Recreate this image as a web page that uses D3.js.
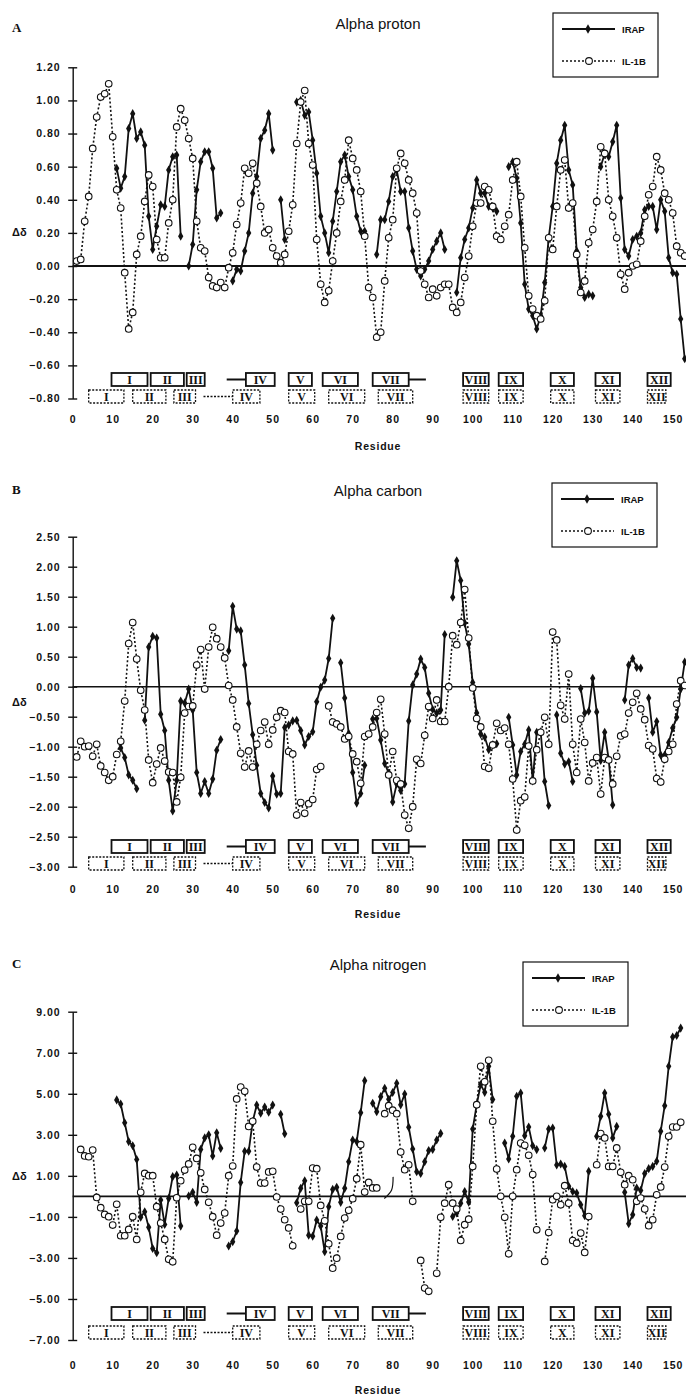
<!DOCTYPE html>
<html>
<head>
<meta charset="utf-8">
<script src="https://cdn.jsdelivr.net/npm/d3@7"></script>
<style>
  body { margin: 0; background: #fff; }
  text { font-family: "Liberation Sans", Arial, sans-serif; fill: #111; }
</style>
</head>
<body>
<div id="chart"></div>
<script>
// residue axis labels
var residueTicks = d3.range(0, 151, 10);

// y ticks, one list per panel
var protonTicks = [1.2, 1.0, 0.8, 0.6, 0.4, 0.2, 0, -0.2, -0.4, -0.6, -0.8];
var carbonTicks = [2.5, 2.0, 1.5, 1.0, 0.5, 0, -0.5, -1.0, -1.5, -2.0, -2.5, -3.0];
var nitrogenTicks = [9, 7, 5, 3, 1, -1, -3, -5, -7];

// Alpha proton, IRAP from residue 11 (null = no point)
var protonIrap = [
  0.59, 0.47, 0.54, 0.83, 0.92, 0.77, 0.81, 0.73, 0.30, 0.10,
  0.24, 0.37, 0.36, 0.58, 0.66, 0.67, 0.18, null, 0.00, 0.13,
  0.46, 0.63, 0.69, 0.69, 0.59, 0.29, 0.32, null, null, -0.09,
  -0.02, -0.03, 0.09, 0.20, 0.44, 0.54, 0.77, 0.82, 0.92, 0.70,
  null, 0.40, 0.16, null, null, 0.99, 1.00, 0.91, 0.93, 0.76,
  0.56, 0.30, 0.20, 0.08, 0.27, 0.45, 0.63, 0.67, 0.54, 0.46,
  0.30, 0.21, 0.21, null, null, 0.07, 0.28, 0.28, 0.39, 0.54,
  0.58, 0.45, 0.45, 0.23, 0.09, -0.02, -0.06, -0.02, 0.03, 0.10,
  0.15, 0.20, 0.10, null, null, -0.16, 0.05, 0.16, 0.23, 0.35,
  0.52, 0.44, 0.44, 0.36, 0.35, 0.33, null, null, 0.60, 0.63,
  0.53, 0.26, -0.11, -0.26, -0.30, -0.38, -0.30, -0.10, 0.17, 0.36,
  0.62, 0.76, 0.85, 0.58, 0.49, 0.09, -0.13, -0.19, -0.17, -0.18,
  null, 0.60, 0.68, 0.66, 0.75, 0.85, 0.41, 0.10, 0.06, 0.16,
  0.18, 0.20, 0.34, 0.36, 0.36, 0.22, 0.40, 0.33, 0.05, -0.04,
  -0.05, -0.32, -0.56
];
// Alpha proton, IL-1B from residue 1
var protonIl1b = [
  0.03, 0.04, 0.27, 0.42, 0.71, 0.90, 1.02, 1.04, 1.10, 0.78,
  0.46, 0.35, -0.04, -0.38, -0.28, 0.07, 0.18, 0.39, 0.55, 0.48,
  0.16, 0.05, 0.05, 0.26, 0.40, 0.84, 0.95, 0.88, 0.77, 0.65,
  0.27, 0.11, 0.09, -0.07, -0.12, -0.13, -0.10, -0.13, -0.01, 0.08,
  0.25, 0.38, 0.59, 0.56, 0.62, 0.50, 0.36, 0.20, 0.22, 0.11,
  0.06, 0.02, 0.07, 0.21, 0.37, 0.74, 0.99, 1.06, 0.74, 0.61,
  0.16, -0.11, -0.22, -0.15, 0.03, 0.20, 0.39, 0.52, 0.76, 0.65,
  0.58, 0.45, 0.18, -0.13, -0.19, -0.43, -0.40, -0.09, 0.17, 0.28,
  0.59, 0.68, 0.62, 0.52, 0.44, 0.32, -0.03, -0.11, -0.19, -0.14,
  -0.18, -0.13, -0.11, -0.11, -0.25, -0.28, -0.22, -0.07, 0.06, 0.24,
  0.38, 0.38, 0.48, 0.46, 0.36, 0.18, 0.16, 0.24, 0.31, 0.52,
  0.63, 0.42, 0.11, -0.18, -0.26, -0.30, -0.32, -0.21, 0.17, 0.10,
  0.36, 0.58, 0.64, 0.35, 0.38, 0.07, -0.16, -0.09, 0.14, 0.22,
  0.39, 0.72, 0.68, 0.40, 0.30, 0.17, -0.05, -0.14, -0.04, 0.00,
  0.01, 0.15, 0.30, 0.43, 0.48, 0.66, 0.58, 0.44, 0.40, 0.32,
  0.12, 0.08, 0.06
];

// Alpha carbon, IRAP from residue 12
var carbonIrap = [
  -1.02, -1.18, -1.47, -1.56, -1.70, null, -0.56, 0.66, 0.84,
  0.81, -0.46, -0.73, -1.56, -2.07, -1.56, -0.24, -0.27, -0.04, -0.39,
  -1.43, -1.78, -1.58, -1.78, -1.54, -1.06, -0.88, null, 0.60, 1.34,
  0.96, 0.93, 0.36, -0.28, -0.80, -1.31, -1.78, -1.93, -2.02, -1.49,
  -1.79, -1.78, -0.68, -0.64, -0.57, -0.56, -0.73, -0.97, -0.83, -0.75,
  -0.25, -0.01, 0.11, 0.47, 1.14, null, 0.40, -0.19, -0.78, -1.43,
  -1.94, -1.78, -1.31, null, -0.54, -0.53, -0.89, -1.28, -1.44, -1.92,
  -1.62, -1.73, -1.62, -0.57, 0.03, 0.21, 0.46, 0.32, -0.11, -0.38,
  -0.44, -0.39, 0.87, null, 1.49, 2.10, 1.77, 1.06, 0.71, 0.07,
  -0.44, -0.79, -0.84, -1.05, -0.97, -0.95, null, null, -0.51, -0.97,
  -1.47, -1.08, -0.96, -0.72, -1.57, -0.76, -0.75, -1.58, -1.98, null,
  -0.47, -1.11, -1.29, -1.25, -1.58, null, -0.03, -0.44, -0.41, 0.14,
  -0.42, -1.23, -0.76, -1.21, -1.97, null, null, -0.22, 0.36, 0.47,
  0.32, 0.31, null, -0.19, -0.76, -0.58, -1.14, -1.14, -0.93, -0.69,
  -0.51, -0.04, 0.41
];
// Alpha carbon, IL-1B from residue 1
var carbonIl1b = [
  -1.17, -0.91, -1.00, -0.99, -1.16, -0.96, -1.32, -1.43, -1.56, -1.50,
  -1.13, -0.91, -0.24, 0.72, 1.07, 0.46, -0.06, -0.39, -1.22, -1.60,
  -1.29, -1.02, -1.24, -1.42, -1.43, -1.92, -1.51, -0.44, -0.33, -0.32,
  0.36, 0.62, -0.04, 0.66, 0.99, 0.80, 0.66, 0.48, 0.02, -0.22,
  -0.67, -1.11, -1.34, -1.07, -1.34, -0.96, -0.73, -0.59, -0.96, -0.72,
  -0.51, -0.40, -0.43, -1.08, -1.12, -2.14, -1.93, -2.11, -1.95, -1.88,
  -1.38, -1.33, null, -0.32, -0.59, -0.62, -0.67, -0.87, -0.83, -1.12,
  -1.25, -1.61, -0.83, -0.79, -0.67, -0.43, -0.21, -0.79, -1.47, -1.08,
  -1.56, -1.62, -2.14, -2.36, -2.00, -1.21, -1.28, -0.81, -0.33, -0.53,
  -0.22, -0.58, -0.58, 0.00, 0.85, 0.70, 1.07, 1.62, 0.81, -0.02,
  -0.53, -0.67, -1.33, -1.36, -0.97, -0.61, -0.73, -0.69, -0.96, -1.54,
  -2.39, -1.90, -1.84, -0.99, -1.57, -1.05, -0.76, -0.51, -0.96, 0.91,
  0.78, -0.31, -0.54, 0.21, -0.96, -1.43, -0.54, -0.93, -1.57, -1.27,
  -1.18, -1.79, -1.18, -1.22, -1.62, -1.16, -0.82, -0.79, -0.44, -0.26,
  -0.11, -0.37, -0.55, -0.98, -1.04, -1.53, -1.59, -1.21, -1.08, -0.96,
  -0.29, 0.10, 0.02
];

// Alpha nitrogen, IRAP from residue 11
var nitrogenIrap = [
  4.70, 4.50, 3.59, 2.67, 2.47, 1.80, -1.02, -0.75, -1.51, -2.54,
  -2.75, -0.18, -1.37, -0.10, 0.96, 1.04, -1.45, null, 0.02, 0.20,
  -0.29, 2.29, 2.85, 3.00, 1.97, 3.10, 2.34, null, -2.42, -2.21,
  -1.69, 0.68, 2.20, 2.20, 3.65, 4.45, 4.05, 4.35, 4.10, 4.45,
  null, 4.00, 3.05, null, null, -0.31, 0.39, 0.76, -1.89, -1.94,
  -1.15, -1.45, -2.70, -0.50, 0.34, 0.44, -0.29, 0.39, 1.69, 2.75,
  2.67, 4.08, 5.64, null, 4.54, 4.13, 4.86, 5.27, 4.73, 5.06,
  5.51, 4.46, 4.99, 3.37, 2.31, 1.20, 1.12, 1.69, 2.23, 2.29,
  2.75, 3.07, null, null, -0.98, -0.81, -0.33, 0.24, -0.28, 3.28,
  4.47, 5.45, 5.07, 6.34, 4.72, null, null, 2.60, 1.82, 2.93,
  4.88, 5.04, 2.96, 3.38, 2.47, 2.28, null, 2.36, 3.28, 3.33,
  1.53, 1.58, 1.46, 0.49, 0.24, 0.16, -0.41, -0.94, 1.22, null,
  2.93, 3.90, 5.04, 4.00, 2.85, 3.41, null, 0.20, -1.33, -0.89,
  0.41, 0.29, 1.11, 1.35, 1.46, 1.71, 3.17, 4.42, 6.34, 7.77,
  7.84, 8.20
];
// Alpha nitrogen, IL-1B from residue 2
var nitrogenIl1b = [
  2.29, 1.97, 1.93, 2.26, -0.05, -0.55, -0.88, -0.99, -1.40, -0.39,
  -1.92, -1.92, -1.61, -0.99, -2.10, 0.20, 1.12, 1.01, 1.01, -0.50,
  -1.30, -2.10, -3.07, -3.19, -0.07, 0.76, 1.28, 1.58, 2.39, 1.85,
  1.15, 0.34, -0.29, -0.99, -1.89, -1.30, -0.81, 1.01, 1.48, 4.75,
  5.33, 5.12, 3.41, 3.66, 1.43, 0.65, 0.65, 1.19, 1.22, -0.03,
  -0.62, -1.14, -1.54, -2.41, null, -0.62, -0.24, -0.24, 1.38, 1.35,
  -0.44, -1.19, -2.31, -3.50, -3.01, -1.95, -1.06, -0.68, -0.11, 0.86,
  2.52, 0.21, 0.68, 0.41, 0.41, null, 4.03, 4.42, 4.20, 4.03,
  2.16, 1.30, 1.54, -0.24, null, -3.12, -4.47, -4.63, null, -3.75,
  -1.02, -0.33, 0.57, -0.33, -0.62, -2.15, -1.38, -1.11, 1.46, 4.47,
  6.34, 5.58, 6.63, 3.66, 1.33, 0.00, -1.02, -2.80, 0.00, 1.30,
  2.60, 2.49, 2.00, 1.06, -1.63, null, -3.17, -1.76, -0.16, 0.00,
  -0.41, 0.52, -0.33, -2.15, -2.28, -1.79, -2.73, -0.98, null, 1.54,
  3.06, 2.85, 1.46, 1.46, 2.36, 1.17, 0.57, 1.01, 0.81, -0.24,
  -0.08, -0.62, -1.43, -1.14, 0.08, 0.46, 1.43, 2.93, 3.38, 3.38,
  3.61
];
// small hand-drawn bracket in panel C (residue, value)
var nitrogenMark = [[77.9, -0.1], [79.7, 0.3], [80.1, 0.95]];

// strand boxes: [from residue, to residue, label]
var irapStrands = [[9.7, 18.7, "I"], [19.5, 27.8, "II"], [28.5, 33, "III"], [43.3, 50.5, "IV"],
  [54, 59.8, "V"], [62.5, 71.3, "VI"], [75, 84, "VII"], [97.6, 104, "VIII"], [106.5, 112.6, "IX"],
  [119.5, 125.3, "X"], [130.7, 136.8, "XI"], [143.7, 149.5, "XII"]];
var irapLinks = [[38.5, 43.3], [84, 88.3]];
var il1bStrands = [[4, 12.8, "I"], [15, 23.3, "II"], [25.3, 30.7, "III"], [40, 46.8, "IV"],
  [54, 60.5, "V"], [64, 73, "VI"], [76.4, 85, "VII"], [97.6, 104, "VIII"], [106.5, 112.6, "IX"],
  [119.5, 125.3, "X"], [130.7, 136.8, "XI"], [143.7, 148.3, "XII"]];
var il1bLinks = [[32.7, 40]];

var svg = d3.select("#chart").append("svg")
  .attr("width", 686).attr("height", 1399)
  .style("background", "#fff");

var x = d3.scaleLinear().domain([0, 150]).range([72.7, 672.7]);
var fmt = d3.format(".2f");

var panels = [
  {letter: "A", title: "Alpha proton", ticks: protonTicks, irap: protonIrap, irapFrom: 11,
   il1b: protonIl1b, il1bFrom: 1, top: 67.3, bottom: 398.5, titleY: 29, letterY: 32,
   legend: [553, 13], rows: [373, 390], labelY: 424, residueY: 450, deltaY: 236, zeroW: 2},
  {letter: "B", title: "Alpha carbon", ticks: carbonTicks, irap: carbonIrap, irapFrom: 12,
   il1b: carbonIl1b, il1bFrom: 1, top: 536.7, bottom: 866.7, titleY: 496, letterY: 494,
   legend: [552, 483], rows: [840, 857], labelY: 894, residueY: 918, deltaY: 706, zeroW: 1.6},
  {letter: "C", title: "Alpha nitrogen", ticks: nitrogenTicks, irap: nitrogenIrap, irapFrom: 11,
   il1b: nitrogenIl1b, il1bFrom: 2, top: 1011.7, bottom: 1340, titleY: 970, letterY: 968,
   legend: [523, 962], rows: [1307, 1326], labelY: 1370, residueY: 1394, deltaY: 1180, zeroW: 1.6,
   mark: nitrogenMark}
];

function toPoints(vals, from) {
  return vals.map(function(v, i) { return {r: from + i, v: v}; });
}

function drawStrands(g, strands, links, y0, dashed) {
  var h = 13;
  links.forEach(function(l) {
    g.append("line")
      .attr("x1", x(l[0])).attr("x2", x(l[1]))
      .attr("y1", y0 + h / 2).attr("y2", y0 + h / 2)
      .attr("stroke", "#111").attr("stroke-width", dashed ? 1.3 : 2)
      .attr("stroke-dasharray", dashed ? "2,1.5" : null);
  });
  var s = g.selectAll(null).data(strands).enter().append("g");
  s.append("rect")
    .attr("x", function(d) { return x(d[0]); })
    .attr("y", y0)
    .attr("width", function(d) { return x(d[1]) - x(d[0]); })
    .attr("height", h)
    .attr("fill", "#fff")
    .attr("stroke", "#111")
    .attr("stroke-width", dashed ? 1.3 : 1.8)
    .attr("stroke-dasharray", dashed ? "2,1.5" : null);
  s.append("text")
    .attr("x", function(d) { return (x(d[0]) + x(d[1])) / 2; })
    .attr("y", y0 + h - 2.5)
    .attr("text-anchor", "middle")
    .attr("fill", "#111")
    .style("font-family", "'Liberation Serif', 'DejaVu Serif', serif")
    .style("font-size", "12px")
    .style("font-weight", "bold")
    .text(function(d) { return d[2]; });
}

function drawLegend(g, lx, ly) {
  g.append("rect").attr("x", lx).attr("y", ly).attr("width", 105).attr("height", 64)
    .attr("fill", "#fff").attr("stroke", "#111").attr("stroke-width", 1.2);
  g.append("line").attr("x1", lx + 9).attr("x2", lx + 62).attr("y1", ly + 16).attr("y2", ly + 16)
    .attr("stroke", "#111").attr("stroke-width", 1.8);
  g.append("path").attr("d", d3.symbol(d3.symbolDiamond, 26))
    .attr("transform", "translate(" + (lx + 35) + "," + (ly + 16) + ")").attr("fill", "#111");
  g.append("text").attr("x", lx + 69).attr("y", ly + 19.5)
    .style("font-size", "9.5px").style("font-weight", "bold").text("IRAP");
  g.append("line").attr("x1", lx + 9).attr("x2", lx + 62).attr("y1", ly + 48).attr("y2", ly + 48)
    .attr("stroke", "#111").attr("stroke-width", 1.5).attr("stroke-dasharray", "2,2");
  g.append("circle").attr("cx", lx + 36).attr("cy", ly + 48).attr("r", 3.4)
    .attr("fill", "#fff").attr("stroke", "#111").attr("stroke-width", 1.1);
  g.append("text").attr("x", lx + 69).attr("y", ly + 51.5)
    .style("font-size", "9.5px").style("font-weight", "bold").text("IL-1B");
}

panels.forEach(function(p) {
  var g = svg.append("g");
  var y = d3.scaleLinear()
    .domain([p.ticks[p.ticks.length - 1], p.ticks[0]])
    .range([p.bottom, p.top]);

  // panel letter and title
  g.append("text").attr("x", 12).attr("y", p.letterY)
    .style("font-family", "'Liberation Serif', serif").style("font-size", "13px")
    .style("font-weight", "bold").text(p.letter);
  g.append("text").attr("x", 378).attr("y", p.titleY).attr("text-anchor", "middle")
    .style("font-size", "15px").text(p.title);

  // y axis: line through the ticks, ticks crossing it
  var yAxis = d3.axisLeft(y).tickValues(p.ticks).tickFormat(fmt).tickSizeInner(0).tickSizeOuter(0).tickPadding(12);
  var ax = g.append("g").attr("transform", "translate(" + x(0) + ",0)").call(yAxis);
  ax.select(".domain").attr("stroke", "#111").attr("stroke-width", 1.4);
  ax.selectAll(".tick line").attr("x1", -4.5).attr("x2", 4.5).attr("stroke", "#111").attr("stroke-width", 1.4);
  ax.selectAll(".tick text").style("font-family", "'Liberation Sans', Arial, sans-serif")
    .style("font-size", "10.5px").style("font-weight", "bold").style("letter-spacing", "1px")
    .attr("fill", "#111");

  g.append("text").attr("x", 12).attr("y", p.deltaY)
    .style("font-size", "11px").style("font-weight", "bold").text("Δδ");

  // zero line across the plot
  g.append("line").attr("x1", x(0)).attr("x2", 686).attr("y1", y(0)).attr("y2", y(0))
    .attr("stroke", "#111").attr("stroke-width", p.zeroW);

  // residue labels (no axis line in the original)
  var xAxis = d3.axisBottom(x).tickValues(residueTicks).tickFormat(d3.format("d")).tickSize(0).tickPadding(0);
  var bx = g.append("g").attr("transform", "translate(0," + (p.labelY - 8) + ")").call(xAxis);
  bx.select(".domain").remove();
  bx.selectAll(".tick text").style("font-family", "'Liberation Sans', Arial, sans-serif")
    .style("font-size", "10.5px").style("font-weight", "bold").style("letter-spacing", "1px")
    .attr("fill", "#111");
  g.append("text").attr("x", 378).attr("y", p.residueY).attr("text-anchor", "middle")
    .style("font-size", "10.5px").style("font-weight", "bold").style("letter-spacing", "0.8px")
    .text("Residue");

  drawStrands(g, irapStrands, irapLinks, p.rows[0], false);
  drawStrands(g, il1bStrands, il1bLinks, p.rows[1], true);

  var line = d3.line()
    .defined(function(d) { return d.v !== null; })
    .x(function(d) { return x(d.r); })
    .y(function(d) { return y(d.v); });

  var irapPts = toPoints(p.irap, p.irapFrom);
  var il1bPts = toPoints(p.il1b, p.il1bFrom);

  g.append("path").datum(irapPts).attr("d", line)
    .attr("fill", "none").attr("stroke", "#111").attr("stroke-width", 1.8).attr("stroke-linejoin", "round");
  g.append("path").datum(il1bPts).attr("d", line)
    .attr("fill", "none").attr("stroke", "#111").attr("stroke-width", 1.6).attr("stroke-dasharray", "2,2.2");

  g.selectAll(null).data(irapPts.filter(function(d) { return d.v !== null; })).enter()
    .append("path").attr("d", d3.symbol(d3.symbolDiamond, 24))
    .attr("transform", function(d) { return "translate(" + x(d.r) + "," + y(d.v) + ")"; })
    .attr("fill", "#111");
  g.selectAll(null).data(il1bPts.filter(function(d) { return d.v !== null; })).enter()
    .append("circle")
    .attr("cx", function(d) { return x(d.r); })
    .attr("cy", function(d) { return y(d.v); })
    .attr("r", 3.3).attr("fill", "#fff").attr("stroke", "#111").attr("stroke-width", 1.1);

  if (p.mark) {
    g.append("path").datum(p.mark)
      .attr("d", d3.line().curve(d3.curveCatmullRom)
        .x(function(d) { return x(d[0]); }).y(function(d) { return y(d[1]); }))
      .attr("fill", "none").attr("stroke", "#111").attr("stroke-width", 1.2);
  }

  drawLegend(g, p.legend[0], p.legend[1]);
});
</script>
</body>
</html>
